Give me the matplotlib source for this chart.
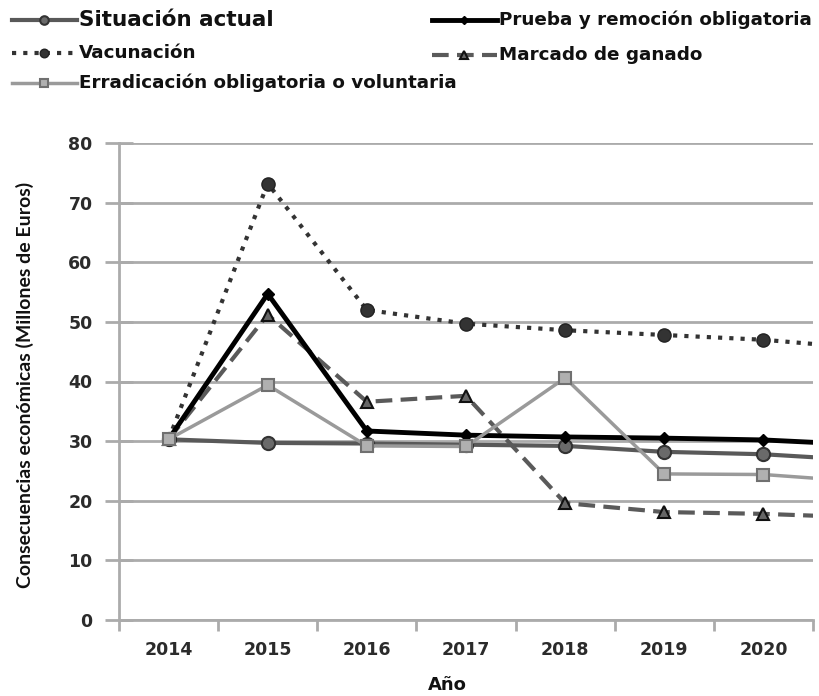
import matplotlib
matplotlib.use("Agg")
import matplotlib.pyplot as plt
from matplotlib.lines import Line2D
import numpy as np

# ---- data (last value = 2021, only half visible at the right edge) ----
years = [2014, 2015, 2016, 2017, 2018, 2019, 2020, 2021]
year_labels = ["2014", "2015", "2016", "2017", "2018", "2019", "2020"]
situacion = [30.3, 29.7, 29.6, 29.4, 29.2, 28.2, 27.8, 26.8]
prueba = [30.3, 54.7, 31.7, 31.0, 30.7, 30.5, 30.2, 29.4]
vacunacion = [30.3, 73.2, 52.0, 49.7, 48.6, 47.8, 47.0, 45.6]
marcado = [30.3, 51.2, 36.6, 37.6, 19.6, 18.1, 17.8, 17.2]
erradicacion = [30.3, 39.4, 29.2, 29.1, 40.6, 24.5, 24.4, 23.2]

names = ["Situación actual", "Prueba y remoción obligatoria", "Vacunación",
         "Marcado de ganado", "Erradicación obligatoria o voluntaria"]

plt.rcParams['font.family'] = ["DejaVu Sans"]

W, H = 820, 696
fig = plt.figure(figsize=(W / 100, H / 100), dpi=100)
ax = fig.add_axes([119 / W, 1 - 620 / H, (813 - 119) / W, (620 - 143) / H])

styles = {
    "sit": dict(color="#595959", lw=3, marker="o", ms=9.5, mfc="#6a6a6a",
                mec="#333333", mew=1.5),
    "pru": dict(color="#000000", lw=3.5, marker="D", ms=6, mfc="#000000",
                mec="#000000"),
    "vac": dict(color="#333333", lw=3, ls=(0, (1, 1.7)), marker="o", ms=9.5,
                mfc="#333333", mec="#222222"),
    "mar": dict(color="#5a5a5a", lw=3, ls=(0, (4, 2)), marker="^", ms=9,
                mfc="#666666", mec="#111111", mew=1.5),
    "err": dict(color="#9a9a9a", lw=2.5, marker="s", ms=8.5, mfc="#b0b0b0",
                mec="#707070", mew=1.5),
}

ax.plot(years, situacion, zorder=3, **styles["sit"])
ax.plot(years, prueba, zorder=4, **styles["pru"])
ax.plot(years, vacunacion, zorder=3, **styles["vac"])
ax.plot(years, marcado, zorder=3, **styles["mar"])
ax.plot(years, erradicacion, zorder=5, **styles["err"])

ax.set_xlim(2013.5, 2020.5)
ax.set_ylim(0, 80)
ax.set_yticks(np.arange(0, 81, 10))
ax.yaxis.grid(True, color="#ababab", lw=2)
ax.set_axisbelow(True)

# category-style x axis: ticks between categories, labels at centers
ax.set_xticks(np.arange(2013.5, 2021, 1.0))
ax.set_xticklabels([])
ax.set_xticks(years[:7], minor=True)
ax.set_xticklabels(year_labels, minor=True)
ax.tick_params(axis="x", which="major", direction="out", length=8, width=2,
               color="#ababab")
ax.tick_params(axis="x", which="minor", length=0, pad=15, labelsize=12.5,
               labelcolor="#2b2b2b")
ax.tick_params(axis="y", direction="inout", length=20, width=2, color="#ababab",
               pad=9, labelsize=12.5, labelcolor="#2b2b2b")
for lab in ax.get_xticklabels(minor=True) + ax.get_yticklabels():
    lab.set_fontweight("bold")

for s in ["top", "right"]:
    ax.spines[s].set_visible(False)
for s in ["left", "bottom"]:
    ax.spines[s].set_color("#ababab")
    ax.spines[s].set_linewidth(2)

ax.set_xlabel("Año", fontsize=13, fontweight="bold", color="#111111")
ax.xaxis.set_label_coords((447 - 119) / (813 - 119), -(685 - 620) / (620 - 143))
ax.xaxis.label.set_verticalalignment("center")
ax.set_ylabel("Consecuencias económicas (Millones de Euros)", fontsize=14,
              family=["Lato", "DejaVu Sans"], fontweight="bold", color="#111111")
ax.yaxis.set_label_coords(-(119 - 25) / (813 - 119), (620 - 385) / (620 - 143))
ax.yaxis.label.set_verticalalignment("center")

# ---- legend drawn in figure pixels ----
def px(x, y):
    return x / W, 1 - y / H

entries = [
    ("sit", names[0], 12, 77, 20, 15.5),
    ("vac", names[2], 12, 77, 53, 13.2),
    ("err", names[4], 12, 77, 83, 13.2),
    ("pru", names[1], 432, 497, 20, 13.2),
    ("mar", names[3], 432, 497, 55, 13.2),
]
for key, text, x0, x1, y, fs in entries:
    st = dict(styles[key])
    marker = st.pop("marker")
    ms = st.pop("ms")
    mfc = st.pop("mfc")
    mec = st.pop("mec")
    mew = st.pop("mew", 1.0)
    (fx0, fy), (fx1, _) = px(x0, y), px(x1, y)
    fig.add_artist(Line2D([fx0, fx1], [fy, fy], transform=fig.transFigure, **st))
    fig.add_artist(Line2D([(fx0 + fx1) / 2], [fy], transform=fig.transFigure,
                          ls="none", marker=marker, ms=ms * 0.65, mfc=mfc,
                          mec=mec, mew=mew))
    fig.text(fx1 + 2 / W, fy, text, fontsize=fs, fontweight="bold",
             color="#111111", va="center", ha="left")

fig.savefig("out.png", dpi=100)
